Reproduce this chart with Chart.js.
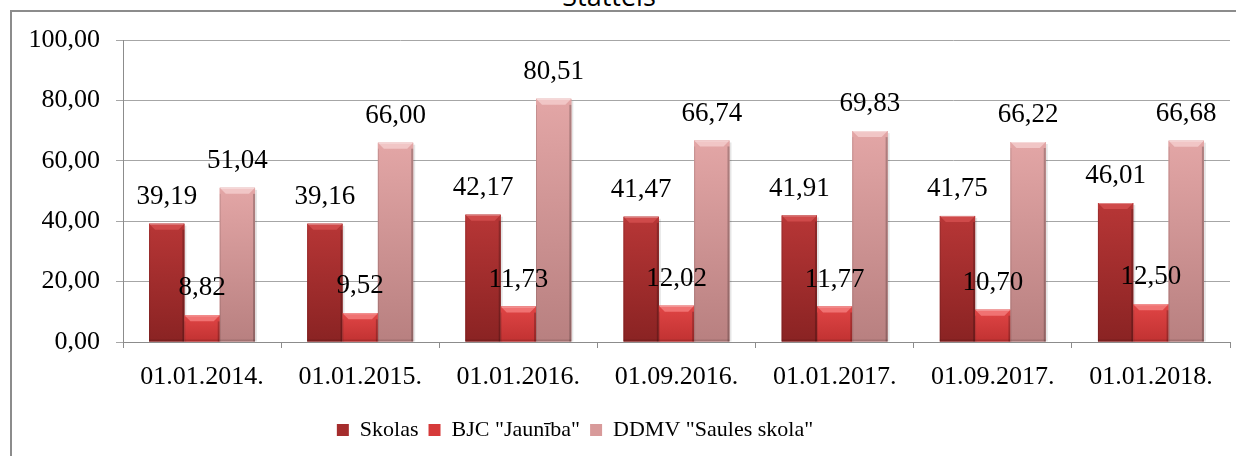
<!DOCTYPE html>
<html>
<head>
<meta charset="utf-8">
<title>Stattels</title>
<script src="https://cdn.jsdelivr.net/npm/chart.js"></script>
<style>
    html, body {
        margin: 0;
        padding: 0;
        background: #ffffff;
        overflow: hidden;
    }
    #wrap {
        position: relative;
        width: 1236px;
        height: 456px;
    }
    #frame {
        position: absolute;
        left: 10px;
        top: 10px;
        width: 1240px;
        height: 470px;
        border: 2px solid #8c8c8c;
        box-sizing: border-box;
    }
    #title {
        position: absolute;
        left: 0;
        width: 1218px;
        top: -18px;
        text-align: center;
        font-family: "Open Sans", sans-serif;
        font-size: 27px;
        line-height: 27px;
        color: #000;
    }
    #chart {
        position: absolute;
        left: 0;
        top: 0;
    }
</style>
</head>
<body>
<div id="wrap">
    <div id="frame"></div>
    <div id="title">Stattels</div>
    <canvas id="chart" width="1236" height="456"></canvas>
</div>

<script>
    // dati
    const categories = ['01.01.2014.', '01.01.2015.', '01.01.2016.', '01.09.2016.', '01.01.2017.', '01.09.2017.', '01.01.2018.'];
    const seriesNames = ['Skolas', 'BJC "Jaunība"', 'DDMV "Saules skola"'];
    const skolas = [39.19, 39.16, 42.17, 41.47, 41.91, 41.75, 46.01];
    const bjc = [8.82, 9.52, 11.73, 12.02, 11.77, 10.70, 12.50];
    const ddmv = [51.04, 66.00, 80.51, 66.74, 69.83, 66.22, 66.68];
    const yTicks = [0, 20, 40, 60, 80, 100];

    const serif = '"Liberation Serif", "Times New Roman", serif';
    Chart.defaults.font.family = serif;
    Chart.defaults.color = '#000';

    // krāsas: pamata, augša, apakša, augšējā slīpne
    const palette = [
        { base: '#a52d2d', top: '#b73636', bottom: '#8a2323', bevel: '#cf4a4a' },
        { base: '#d63a3a', top: '#e04545', bottom: '#c13232', bevel: '#f07272' },
        { base: '#d89a9a', top: '#e3a6a6', bottom: '#b88080', bevel: '#f1c6c6' }
    ];

    function fmt(v) {
        return v.toFixed(2).replace('.', ',');
    }

    // slīpņu efekts stabiņiem + vērtību etiķetes
    const bevelPlugin = {
        id: 'bevel',
        afterDatasetsDraw(chart) {
            const ctx = chart.ctx;
            chart.data.datasets.forEach((ds, di) => {
                const meta = chart.getDatasetMeta(di);
                const c = palette[di];
                meta.data.forEach(bar => {
                    const x0 = bar.x - bar.width / 2;
                    const x1 = bar.x + bar.width / 2;
                    const w = x1 - x0;
                    const y0 = bar.y;
                    const yb = bar.base;
                    const h = yb - y0;
                    const b = Math.min(6, h / 2);
                    ctx.save();
                    // ēna
                    ctx.fillStyle = 'rgba(0,0,0,0.10)';
                    ctx.fillRect(x1, y0 + 2, 2, h - 2);
                    const g = ctx.createLinearGradient(0, y0, 0, yb);
                    g.addColorStop(0, c.top);
                    g.addColorStop(1, c.bottom);
                    ctx.fillStyle = g;
                    ctx.fillRect(x0, y0, w, h);
                    // augša
                    ctx.fillStyle = c.bevel;
                    ctx.beginPath();
                    ctx.moveTo(x0, y0);
                    ctx.lineTo(x1, y0);
                    ctx.lineTo(x1 - b, y0 + b);
                    ctx.lineTo(x0 + b, y0 + b);
                    ctx.closePath();
                    ctx.fill();
                    ctx.fillStyle = 'rgba(255,255,255,0.35)';
                    ctx.fillRect(x0 + 1, y0, w - 2, 1);
                    // malas
                    ctx.fillStyle = 'rgba(0,0,0,0.22)';
                    ctx.fillRect(x1 - 2, y0 + b, 2, h - b);
                    ctx.fillStyle = 'rgba(0,0,0,0.12)';
                    ctx.fillRect(x0, y0 + b, 1, h - b);
                    ctx.fillStyle = 'rgba(0,0,0,0.12)';
                    ctx.fillRect(x0, yb - 2, w, 2);
                    ctx.restore();
                });
            });
            // etiķetes virs stabiņiem
            ctx.save();
            ctx.fillStyle = '#000';
            ctx.font = '27px ' + serif;
            ctx.textAlign = 'center';
            ctx.textBaseline = 'middle';
            chart.data.datasets.forEach((ds, di) => {
                const meta = chart.getDatasetMeta(di);
                meta.data.forEach((bar, i) => {
                    ctx.fillText(fmt(ds.data[i]), bar.x, bar.y - 27);
                });
            });
            ctx.restore();
        },
        afterLayout(chart) {
            // leģenda ir nobīdīta pa kreisi
            const lg = chart.legend;
            if (lg) {
                lg.left -= 40;
                lg.right -= 40;
            }
        }
    };

    const ctx = document.getElementById('chart').getContext('2d');
    new Chart(ctx, {
        type: 'bar',
        data: {
            labels: categories,
            datasets: [
                { label: seriesNames[0], data: skolas, backgroundColor: palette[0].base },
                { label: seriesNames[1], data: bjc, backgroundColor: palette[1].base },
                { label: seriesNames[2], data: ddmv, backgroundColor: palette[2].base }
            ]
        },
        options: {
            responsive: false,
            animation: false,
            categoryPercentage: 0.67,
            barPercentage: 1.0,
            layout: {
                padding: { top: 40, right: 6, left: 0, bottom: 5 }
            },
            plugins: {
                legend: {
                    position: 'bottom',
                    labels: {
                        color: '#000',
                        boxWidth: 12,
                        boxHeight: 12,
                        padding: 10,
                        font: { family: serif, size: 22 }
                    }
                },
                tooltip: { enabled: false }
            },
            scales: {
                x: {
                    grid: {
                        display: true,
                        drawOnChartArea: false,
                        tickLength: 6,
                        color: '#8c8c8c'
                    },
                    border: { color: '#8c8c8c' },
                    ticks: {
                        color: '#000',
                        padding: 14,
                        font: { family: serif, size: 26 }
                    },
                    afterFit(scale) {
                        scale.height = 67;
                    }
                },
                y: {
                    min: 0,
                    max: 100,
                    afterBuildTicks(scale) {
                        scale.ticks = yTicks.map(v => ({ value: v }));
                    },
                    grid: {
                        color: '#a6a6a6',
                        tickLength: 7
                    },
                    border: { color: '#8c8c8c' },
                    ticks: {
                        color: '#000',
                        padding: 16,
                        callback: v => fmt(v),
                        font: { family: serif, size: 26 }
                    },
                    afterFit(scale) {
                        scale.width = 123;
                    }
                }
            }
        },
        plugins: [bevelPlugin]
    });
</script>
</body>
</html>
